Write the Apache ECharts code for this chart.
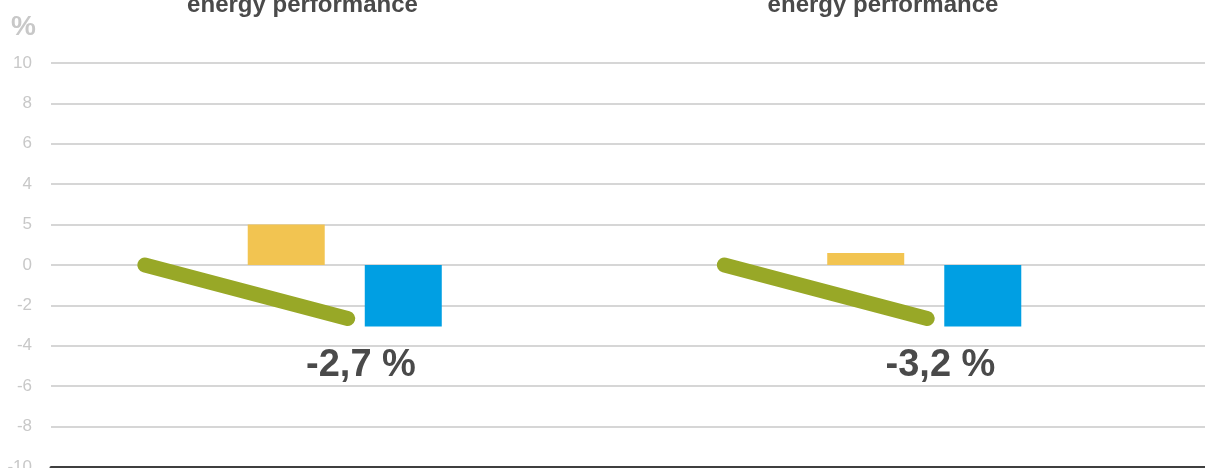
<!DOCTYPE html>
<html>
<head>
<meta charset="utf-8">
<script src="https://cdn.jsdelivr.net/npm/echarts@6/dist/echarts.min.js"></script>
<style>html,body{margin:0;padding:0;background:#fff;}#c{width:1205px;height:468px;}</style>
</head>
<body>
<div id="c"></div>
<script>
const categories = ['Group 1', 'Group 2'];
const titles = ['energy performance', 'energy performance'];
const yellowValues = [2.0, 0.6];
const blueValues = [-3.05, -3.05];
const lineStartValues = [0, 0];
const lineEndValues = [-2.65, -2.65];
const changeLabels = ['-2,7 %', '-3,2 %'];
const changeLabelValue = -5.0;
const yTickLabels = ['-10', '-8', '-6', '-4', '-2', '0', '5', '4', '6', '8', '10'];

const YELLOW = '#F2C451', BLUE = '#009FE3', GREEN = '#98A827', DARK = '#4A4A4A';
const LINE_X0 = 0.155, LINE_X1 = 0.505, LABEL_X = 0.528;

const chart = echarts.init(document.getElementById('c'));

const lineSeries = categories.map((c, i) => ({
  type: 'line', xAxisIndex: 2, yAxisIndex: 1,
  data: [[i + LINE_X0, lineStartValues[i]], [i + LINE_X1, lineEndValues[i]]],
  symbol: 'none', silent: true, animation: false,
  lineStyle: { color: GREEN, width: 15, cap: 'round' }, z: 5
}));

chart.setOption({
  animation: false,
  grid: [
    { left: 51, right: 0, top: 63, bottom: 1, containLabel: false, outerBoundsMode: 'none' },
    { left: 55, right: -9, top: 63, bottom: 1, containLabel: false, outerBoundsMode: 'none' }
  ],
  xAxis: [
    { type: 'category', gridIndex: 0, data: categories, axisLabel: { show: false }, axisTick: { show: false },
      axisLine: { show: true, onZero: false, lineStyle: { color: '#3F3F3F', width: 3 } }, z: 10 },
    { type: 'category', gridIndex: 1, data: categories, show: false },
    { type: 'value', gridIndex: 1, min: 0, max: 2, show: false }
  ],
  yAxis: [
    { type: 'value', gridIndex: 0, min: -10, max: 10, interval: 2,
      axisLine: { show: false }, axisTick: { show: false },
      axisLabel: { margin: 19, color: '#C8C8C8', fontSize: 17, fontFamily: 'Liberation Sans',
        formatter: v => yTickLabels[Math.round((v + 10) / 2)] },
      splitLine: { lineStyle: { color: '#D6D6D6', width: 2 } } },
    { type: 'value', gridIndex: 1, min: -10, max: 10, show: false }
  ],
  series: [
    { type: 'bar', xAxisIndex: 1, yAxisIndex: 1, data: yellowValues, barWidth: 77, barGap: '52%',
      itemStyle: { color: YELLOW } },
    { type: 'bar', xAxisIndex: 1, yAxisIndex: 1, data: blueValues, barWidth: 77, barGap: '52%',
      itemStyle: { color: BLUE } },
    ...lineSeries,
    { type: 'scatter', xAxisIndex: 2, yAxisIndex: 1, symbolSize: 0, silent: true,
      itemStyle: { opacity: 1 },
      data: changeLabels.map((t, i) => [i + LABEL_X, changeLabelValue, t]),
      label: { show: true, position: 'inside', formatter: p => p.data[2], opacity: 1,
        color: DARK, fontSize: 38, fontWeight: 'bold', fontFamily: 'Liberation Sans' } }
  ],
  graphic: [
    { type: 'text', left: 11, top: 13, style: { text: '%', fill: '#C8C8C8', font: 'bold 28px "Liberation Sans"' } },
    ...titles.map((t, i) => ({
      type: 'text', x: [302.5, 883][i], y: 5,
      style: { text: t, fill: DARK, textAlign: 'center', textVerticalAlign: 'middle',
        font: 'bold 24px "Liberation Sans"' }
    }))
  ]
});
</script>
</body>
</html>
